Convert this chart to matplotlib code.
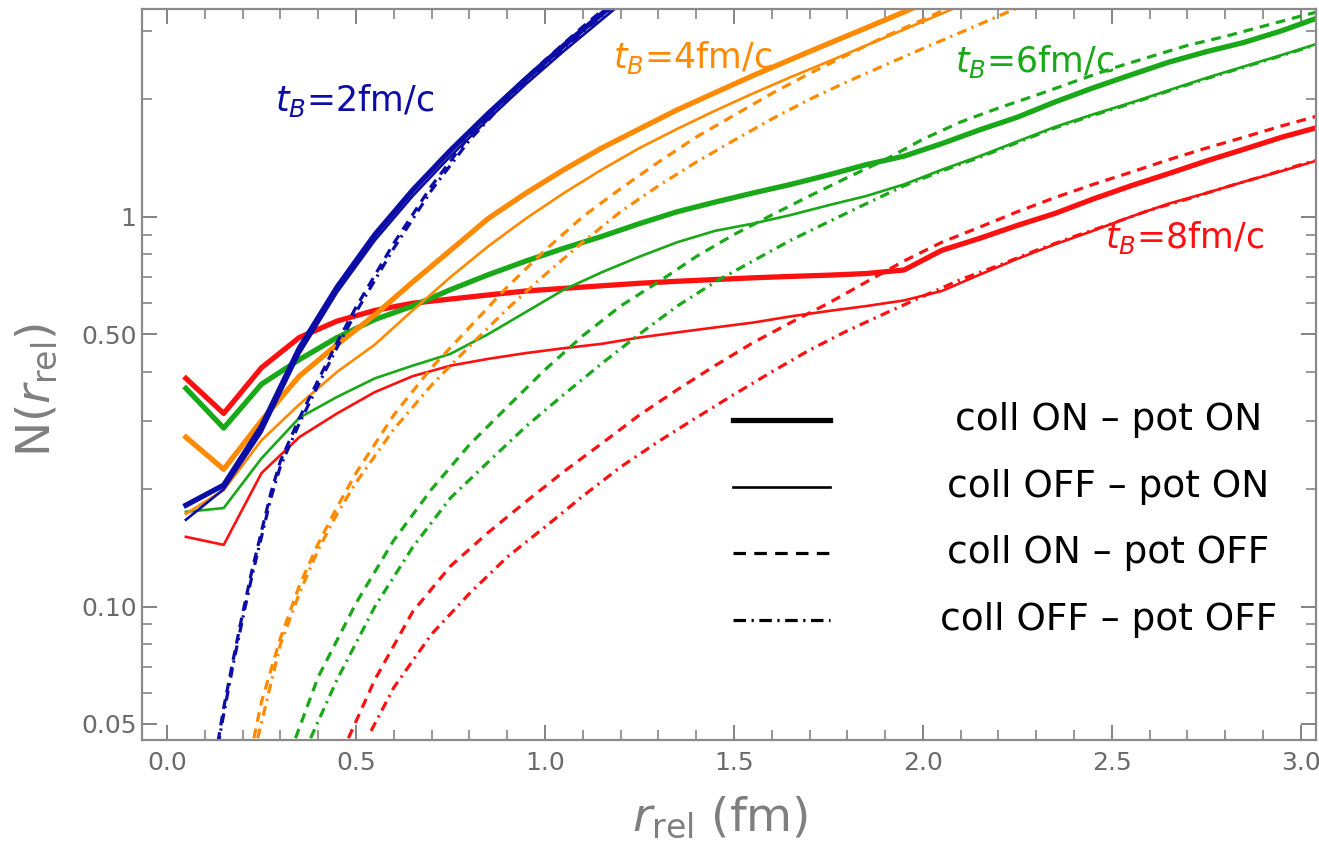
import matplotlib
matplotlib.use("Agg")
import matplotlib.pyplot as plt
from matplotlib.ticker import FixedLocator, FixedFormatter, NullFormatter

plt.rcParams['lines.scale_dashes'] = False
plt.rcParams['mathtext.fontset'] = 'dejavusans'

# r grid of the histogram-like (solid) curves
r_sol = [0.05, 0.15, 0.25, 0.35, 0.45, 0.55, 0.65, 0.75, 0.85, 0.95, 1.05,
         1.15, 1.25, 1.35, 1.45, 1.55, 1.65, 1.75, 1.85, 1.95, 2.05, 2.15,
         2.25, 2.35, 2.45, 2.55, 2.65, 2.75, 2.85, 2.95, 3.05]

# tB = 2 fm/c (blue)
blue_thick = [0.182, 0.205, 0.29, 0.46, 0.66, 0.90, 1.17, 1.48, 1.84, 2.26, 2.75, 3.31, 3.98]
blue_thin = [0.167, 0.20, 0.28, 0.445, 0.64, 0.87, 1.13, 1.43, 1.78, 2.19, 2.66, 3.2, 3.85]
blue_r_off = [0.135, 0.15, 0.175, 0.2, 0.225, 0.25, 0.275, 0.3, 0.35, 0.4, 0.45, 0.5,
              0.6, 0.7, 0.8, 0.9, 1.0, 1.1, 1.2, 1.3]
blue_dash = [0.045, 0.055, 0.073, 0.096, 0.124, 0.156, 0.196, 0.236, 0.304, 0.381, 0.476,
             0.586, 0.855, 1.2, 1.61, 2.05, 2.52, 3.07, 3.7, 4.4]
blue_dashdot = [0.044, 0.053, 0.071, 0.093, 0.12, 0.151, 0.19, 0.229, 0.295, 0.37, 0.462,
                0.569, 0.83, 1.17, 1.57, 2.0, 2.45, 2.98, 3.59, 4.27]

# tB = 4 fm/c (orange)
orange_thick = [0.272, 0.225, 0.30, 0.39, 0.47, 0.56, 0.68, 0.82, 0.99, 1.15, 1.32, 1.50,
                1.68, 1.88, 2.08, 2.30, 2.53, 2.78, 3.05, 3.35, 3.7]
orange_thin = [0.173, 0.199, 0.267, 0.33, 0.40, 0.47, 0.575, 0.70, 0.84, 0.99, 1.15, 1.32,
               1.50, 1.68, 1.87, 2.07, 2.28, 2.50, 2.75, 3.02, 3.32, 3.65]
orange_r_dash = [0.23, 0.25, 0.3, 0.35, 0.4, 0.45, 0.5, 0.6, 0.7, 0.8, 0.9, 1.0, 1.1, 1.2,
                 1.3, 1.4, 1.5, 1.6, 1.7, 1.8, 1.9, 2.0, 2.1, 2.2]
orange_dash = [0.046, 0.057, 0.083, 0.113, 0.145, 0.18, 0.22, 0.31, 0.41, 0.52, 0.66, 0.82,
               1.0, 1.18, 1.38, 1.6, 1.82, 2.07, 2.33, 2.6, 2.9, 3.2, 3.55, 3.9]
orange_r_dd = [0.24, 0.3, 0.35, 0.4, 0.45, 0.5, 0.6, 0.7, 0.8, 0.9, 1.0, 1.1, 1.2, 1.3,
               1.4, 1.5, 1.6, 1.7, 1.8, 1.9, 2.0, 2.1, 2.2, 2.3]
orange_dashdot = [0.046, 0.08, 0.108, 0.14, 0.173, 0.208, 0.285, 0.37, 0.465, 0.58, 0.71,
                  0.86, 1.03, 1.2, 1.38, 1.57, 1.78, 2.0, 2.22, 2.45, 2.7, 2.97, 3.27, 3.6]

# tB = 6 fm/c (green)
green_thick = [0.363, 0.287, 0.372, 0.43, 0.49, 0.545, 0.59, 0.65, 0.71, 0.77, 0.83, 0.89,
               0.96, 1.03, 1.09, 1.15, 1.21, 1.28, 1.36, 1.43, 1.54, 1.67, 1.80, 1.97, 2.14,
               2.31, 2.49, 2.65, 2.80, 3.0, 3.25]
green_thin = [0.175, 0.179, 0.24, 0.305, 0.345, 0.385, 0.415, 0.445, 0.50, 0.57, 0.65, 0.72,
              0.79, 0.86, 0.92, 0.96, 1.01, 1.07, 1.13, 1.21, 1.32, 1.43, 1.56, 1.70, 1.83,
              1.96, 2.11, 2.27, 2.43, 2.60, 2.79]
green_r_dash = [0.34, 0.4, 0.5, 0.6, 0.7, 0.8, 0.9, 1.0, 1.1, 1.2, 1.3, 1.4, 1.5, 1.6, 1.7,
                1.8, 1.9, 2.0, 2.1, 2.2, 2.3, 2.4, 2.5, 2.6, 2.7, 2.8, 2.9, 3.0, 3.1]
green_dash = [0.046, 0.066, 0.102, 0.148, 0.20, 0.26, 0.325, 0.405, 0.495, 0.59, 0.68, 0.79,
              0.90, 1.01, 1.13, 1.26, 1.40, 1.58, 1.75, 1.90, 2.05, 2.22, 2.40, 2.57, 2.75,
              2.90, 3.08, 3.27, 3.46]
green_r_dd = [0.38, 0.45, 0.55, 0.65, 0.75, 0.85, 0.95, 1.05, 1.15, 1.25, 1.35, 1.45, 1.55,
              1.65, 1.75, 1.85, 1.95, 2.05, 2.15, 2.25, 2.35, 2.45, 2.55, 2.65, 2.75, 2.85,
              2.95, 3.05]
green_dashdot = [0.046, 0.065, 0.10, 0.142, 0.19, 0.235, 0.29, 0.35, 0.42, 0.50, 0.59, 0.68,
                 0.77, 0.87, 0.97, 1.08, 1.20, 1.31, 1.42, 1.55, 1.69, 1.82, 1.95, 2.10, 2.26,
                 2.42, 2.59, 2.78]

# tB = 8 fm/c (red)
red_thick = [0.385, 0.313, 0.41, 0.49, 0.54, 0.575, 0.60, 0.615, 0.63, 0.645, 0.655, 0.665,
             0.675, 0.683, 0.69, 0.697, 0.703, 0.708, 0.715, 0.73, 0.82, 0.88, 0.95, 1.02,
             1.11, 1.20, 1.29, 1.39, 1.49, 1.60, 1.70]
red_thin = [0.151, 0.144, 0.22, 0.272, 0.313, 0.355, 0.39, 0.415, 0.432, 0.447, 0.46, 0.472,
            0.49, 0.505, 0.52, 0.535, 0.555, 0.573, 0.59, 0.61, 0.645, 0.71, 0.78, 0.85, 0.92,
            1.0, 1.08, 1.15, 1.23, 1.31, 1.40]
red_r_dash = [0.48, 0.55, 0.65, 0.75, 0.85, 0.95, 1.05, 1.15, 1.25, 1.35, 1.45, 1.55, 1.65,
              1.75, 1.85, 1.95, 2.05, 2.15, 2.25, 2.35, 2.45, 2.55, 2.65, 2.75, 2.85, 2.95, 3.05]
red_dash = [0.046, 0.065, 0.097, 0.127, 0.155, 0.186, 0.222, 0.262, 0.31, 0.36, 0.415, 0.475,
            0.535, 0.60, 0.68, 0.77, 0.86, 0.94, 1.03, 1.12, 1.21, 1.30, 1.40, 1.50, 1.60,
            1.71, 1.82]
red_r_dd = [0.54, 0.6, 0.7, 0.8, 0.9, 1.0, 1.1, 1.2, 1.3, 1.4, 1.5, 1.6, 1.7, 1.8, 1.9, 2.0,
            2.1, 2.2, 2.3, 2.4, 2.5, 2.6, 2.7, 2.8, 2.9, 3.0, 3.1]
red_dashdot = [0.048, 0.062, 0.085, 0.108, 0.134, 0.16, 0.192, 0.228, 0.265, 0.305, 0.35, 0.40,
               0.455, 0.51, 0.565, 0.625, 0.69, 0.75, 0.82, 0.89, 0.96, 1.04, 1.11, 1.19,
               1.27, 1.36, 1.45]

c_blue = '#0c0ca6'
c_orange = '#ff8a00'
c_green = '#18a818'
c_red = '#ff1010'

lw_thick = 3.8
lw_thin = 1.9
lw_dash = 2.3
dash_pat = (7, 5)
dd_pat = (7, 4, 1.6, 4)

fig = plt.figure(figsize=(13.19, 8.48), dpi=100)
ax = fig.add_axes([0.1077, 0.1274, 0.8900, 0.862])

groups = [
    (c_red, red_thick, red_thin, red_r_dash, red_dash, red_r_dd, red_dashdot),
    (c_green, green_thick, green_thin, green_r_dash, green_dash, green_r_dd, green_dashdot),
    (c_orange, orange_thick, orange_thin, orange_r_dash, orange_dash, orange_r_dd, orange_dashdot),
    (c_blue, blue_thick, blue_thin, blue_r_off, blue_dash, blue_r_off, blue_dashdot),
]
for col, thick, thin, rd, dsh, rdd, ddt in groups:
    ax.plot(rd, dsh, color=col, lw=lw_dash, dashes=dash_pat)
    ax.plot(rdd, ddt, color=col, lw=lw_dash, dashes=dd_pat)
    ax.plot(r_sol[:len(thin)], thin, color=col, lw=lw_thin)
    ax.plot(r_sol[:len(thick)], thick, color=col, lw=lw_thick)

ax.set_yscale('log')
ax.set_xlim(-0.066, 3.04)
ax.set_ylim(0.0455, 3.41)

# ticks, Mathematica-like frame
ax.xaxis.set_major_locator(FixedLocator([0.0, 0.5, 1.0, 1.5, 2.0, 2.5, 3.0]))
ax.xaxis.set_major_formatter(FixedFormatter(['0.0', '0.5', '1.0', '1.5', '2.0', '2.5', '3.0']))
ax.xaxis.set_minor_locator(FixedLocator([i / 10 for i in range(0, 31) if i % 5 != 0]))
ax.yaxis.set_major_locator(FixedLocator([0.05, 0.1, 0.5, 1.0]))
ax.yaxis.set_major_formatter(FixedFormatter(['0.05', '0.10', '0.50', '1']))
ax.yaxis.set_minor_locator(FixedLocator([0.06, 0.07, 0.08, 0.09, 0.2, 0.3, 0.4,
                                         0.6, 0.7, 0.8, 0.9, 2, 3]))
ax.yaxis.set_minor_formatter(NullFormatter())

for sp in ax.spines.values():
    sp.set_color('#8a8a8a')
    sp.set_linewidth(1.6)
ax.tick_params(which='both', direction='in', top=True, right=True,
               color='#7a7a7a', labelcolor='#6a6a6a', labelsize=18)
ax.tick_params(which='major', length=10.5, width=1.3)
ax.tick_params(which='minor', length=7, width=1.1)
ax.tick_params(axis='x', pad=8)
ax.tick_params(axis='y', pad=4)

fig.text(0.546, 0.036, r'$r_{\mathrm{rel}}$ (fm)', color='#7f7f7f', fontsize=34,
         ha='center', va='center')
fig.text(0.028, 0.54, r'N($r_{\mathrm{rel}}$)', color='#7f7f7f', fontsize=34,
         ha='center', va='center', rotation=90)

# t_B labels
ax.text(0.113, 0.875, r'$t_B$=2fm/c', color=c_blue, fontsize=25, ha='left', va='center',
        transform=ax.transAxes)
ax.text(0.401, 0.934, r'$t_B$=4fm/c', color=c_orange, fontsize=25, ha='left', va='center',
        transform=ax.transAxes)
ax.text(0.6925, 0.928, r'$t_B$=6fm/c', color=c_green, fontsize=25, ha='left', va='center',
        transform=ax.transAxes)
ax.text(0.820, 0.688, r'$t_B$=8fm/c', color=c_red, fontsize=25, ha='left', va='center',
        transform=ax.transAxes)

# legend drawn by hand
leg_labels = ['coll ON \u2013 pot ON', 'coll OFF \u2013 pot ON',
              'coll ON \u2013 pot OFF', 'coll OFF \u2013 pot OFF']
leg_y = [0.438, 0.346, 0.256, 0.164]
leg_styles = [dict(lw=lw_thick), dict(lw=lw_thin), dict(lw=lw_dash, dashes=(9, 6)),
              dict(lw=lw_dash, dashes=(9, 4, 1.6, 4))]
for lab, yy, st in zip(leg_labels, leg_y, leg_styles):
    ax.plot([0.503, 0.586], [yy, yy], color='black', transform=ax.transAxes, **st)
    ax.text(0.823, yy, lab, color='black', fontsize=27, ha='center', va='center',
            transform=ax.transAxes)

fig.savefig('out.png', dpi=100)
